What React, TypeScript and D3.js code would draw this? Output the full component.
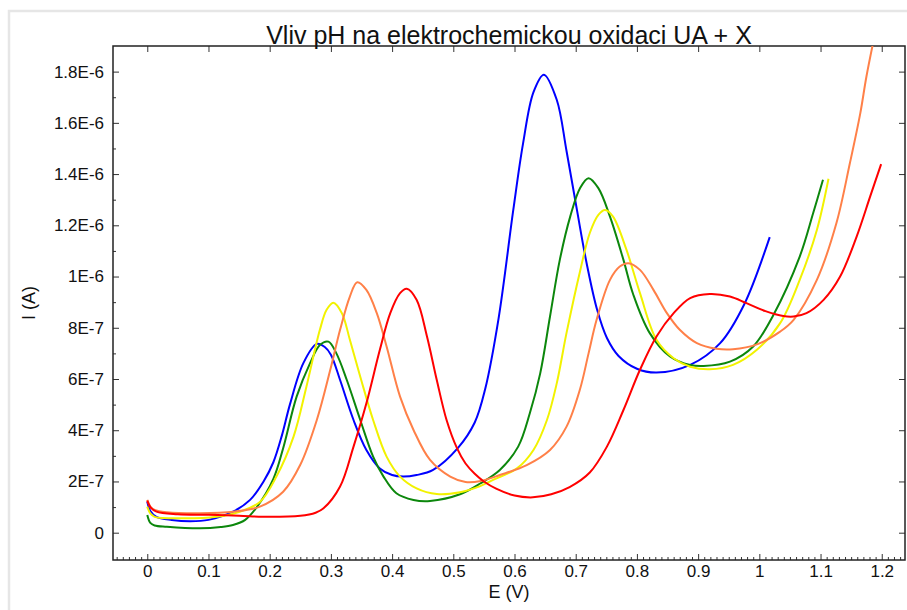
import { useRef, useEffect } from 'react'
import * as d3 from 'd3'

// current values in units of 1E-7 A, potential in V
const blueCurve: [number, number][] = [
  [0, 1.21], [0.005, 0.85], [0.015, 0.62], [0.04, 0.5], [0.07, 0.45], [0.1, 0.5],
  [0.14, 0.82], [0.168, 1.28], [0.19, 2.0], [0.206, 2.75], [0.22, 3.8], [0.233, 5.0],
  [0.255, 6.62], [0.277, 7.37], [0.29, 7.25], [0.3, 6.95], [0.315, 5.96], [0.337, 4.4],
  [0.358, 3.23], [0.38, 2.51], [0.4, 2.25], [0.418, 2.19], [0.44, 2.25], [0.467, 2.45],
  [0.508, 3.32], [0.535, 4.3], [0.552, 5.6], [0.574, 8.37], [0.598, 12.6], [0.614, 15.2],
  [0.631, 17.2], [0.648, 17.88], [0.669, 16.9], [0.685, 14.9], [0.702, 12.6], [0.718, 10.5],
  [0.735, 8.7], [0.751, 7.6], [0.77, 6.9], [0.8, 6.4], [0.832, 6.25], [0.887, 6.55],
  [0.936, 7.4], [0.975, 8.9], [1.017, 11.54]
]

const greenCurve: [number, number][] = [
  [0, 0.69], [0.005, 0.38], [0.012, 0.28], [0.032, 0.23], [0.086, 0.17], [0.12, 0.22],
  [0.14, 0.3], [0.16, 0.5], [0.179, 1.0], [0.206, 2.1], [0.222, 3.3], [0.244, 5.31],
  [0.266, 6.62], [0.282, 7.33], [0.296, 7.46], [0.309, 7.0], [0.326, 5.96], [0.348, 4.4],
  [0.369, 2.97], [0.386, 2.19], [0.407, 1.54], [0.435, 1.28], [0.462, 1.24], [0.511, 1.5],
  [0.544, 1.92], [0.576, 2.45], [0.606, 3.36], [0.625, 4.66], [0.642, 6.22], [0.658, 8.44],
  [0.674, 10.65], [0.691, 12.34], [0.707, 13.45], [0.721, 13.84], [0.737, 13.45],
  [0.756, 12.34], [0.778, 10.65], [0.794, 9.3], [0.821, 7.79], [0.854, 6.88], [0.887, 6.55],
  [0.909, 6.51], [0.952, 6.68], [0.99, 7.27], [1.023, 8.5], [1.066, 10.78], [1.088, 12.48],
  [1.104, 13.78]
]

const yellowCurve: [number, number][] = [
  [0, 1.02], [0.005, 0.75], [0.012, 0.62], [0.059, 0.56], [0.113, 0.62], [0.151, 0.82],
  [0.184, 1.2], [0.211, 2.19], [0.239, 3.75], [0.26, 5.7], [0.282, 7.92], [0.293, 8.7],
  [0.304, 8.98], [0.318, 8.57], [0.331, 7.53], [0.348, 6.09], [0.369, 4.4], [0.391, 2.97],
  [0.413, 2.19], [0.44, 1.73], [0.473, 1.51], [0.511, 1.58], [0.544, 1.82], [0.565, 2.06],
  [0.604, 2.51], [0.631, 3.23], [0.653, 4.4], [0.669, 5.83], [0.685, 7.8], [0.707, 10.2],
  [0.723, 11.7], [0.737, 12.41], [0.748, 12.6], [0.761, 12.34], [0.783, 11.04], [0.805, 9.35],
  [0.832, 7.53], [0.86, 6.81], [0.887, 6.48], [0.919, 6.38], [0.957, 6.55], [0.996, 7.14],
  [1.034, 8.18], [1.066, 9.87], [1.094, 11.82], [1.113, 13.82]
]

const orangeCurve: [number, number][] = [
  [0, 1.28], [0.005, 1.02], [0.012, 0.89], [0.032, 0.8], [0.086, 0.76], [0.141, 0.82],
  [0.184, 1.02], [0.222, 1.6], [0.25, 2.65], [0.277, 4.4], [0.299, 6.36], [0.315, 7.92],
  [0.331, 9.22], [0.343, 9.78], [0.358, 9.48], [0.375, 8.57], [0.391, 7.27], [0.413, 5.31],
  [0.435, 4.01], [0.462, 2.84], [0.495, 2.19], [0.52, 1.98], [0.545, 2.02], [0.576, 2.25],
  [0.62, 2.64], [0.658, 3.23], [0.685, 4.14], [0.707, 5.6], [0.721, 7.0], [0.734, 8.3],
  [0.756, 9.87], [0.772, 10.39], [0.786, 10.52], [0.805, 10.26], [0.827, 9.48], [0.849, 8.57],
  [0.87, 7.92], [0.898, 7.4], [0.93, 7.18], [0.957, 7.16], [0.996, 7.35], [1.034, 7.85],
  [1.056, 8.31], [1.094, 9.87], [1.126, 12.09], [1.148, 14.43], [1.165, 16.38], [1.175, 17.81],
  [1.19, 19.6]
]

const redCurve: [number, number][] = [
  [0, 1.25], [0.005, 1.0], [0.015, 0.82], [0.05, 0.72], [0.1, 0.7], [0.15, 0.66],
  [0.2, 0.62], [0.25, 0.66], [0.275, 0.78], [0.288, 0.95], [0.315, 1.8], [0.337, 3.36],
  [0.358, 5.05], [0.38, 7.14], [0.397, 8.57], [0.413, 9.35], [0.424, 9.52], [0.44, 9.09],
  [0.457, 7.66], [0.473, 5.96], [0.489, 4.4], [0.506, 3.3], [0.52, 2.7], [0.535, 2.3],
  [0.55, 2.0], [0.57, 1.72], [0.6, 1.45], [0.63, 1.38], [0.66, 1.5], [0.69, 1.78],
  [0.723, 2.35], [0.751, 3.36], [0.778, 4.79], [0.805, 6.36], [0.832, 7.66], [0.86, 8.57],
  [0.887, 9.16], [0.919, 9.32], [0.952, 9.22], [0.979, 8.96], [1.01, 8.65], [1.039, 8.46],
  [1.056, 8.44], [1.077, 8.57], [1.105, 9.09], [1.132, 10.0], [1.159, 11.56], [1.181, 13.12],
  [1.199, 14.39]
]

const seriesData = [blueCurve, greenCurve, yellowCurve, orangeCurve, redCurve]
const seriesColors = ['#0000ff', '#0c870c', '#f2f200', '#ff8048', '#ff0000']

const xTickValues = [0, 0.1, 0.2, 0.3, 0.4, 0.5, 0.6, 0.7, 0.8, 0.9, 1, 1.1, 1.2]
const xTickLabels = ['0', '0.1', '0.2', '0.3', '0.4', '0.5', '0.6', '0.7', '0.8', '0.9', '1', '1.1', '1.2']
const yTickValues = [0, 2, 4, 6, 8, 10, 12, 14, 16, 18]
const yTickLabels = ['0', '2E-7', '4E-7', '6E-7', '8E-7', '1E-6', '1.2E-6', '1.4E-6', '1.6E-6', '1.8E-6']
const yMinorValues = [1, 3, 5, 7, 9, 11, 13, 15, 17]

const chartTitle = 'Vliv pH na elektrochemickou oxidaci UA + X'
const xLabel = 'E (V)'
const yLabel = 'I (A)'

function App() {
  const containerRef = useRef<HTMLDivElement>(null)

  useEffect(() => {
    if (!containerRef.current) return
    const container = containerRef.current
    container.innerHTML = ''

    const width = 907
    const height = 610
    const margin = { top: 46, right: 2, bottom: 50, left: 113 }
    const font = '"Liberation Sans", Arial, sans-serif'

    const svg = d3.select(container)
      .append('svg')
      .attr('width', width)
      .attr('height', height)
      .style('position', 'absolute')
      .style('left', '0px')
      .style('top', '0px')
      .style('background', '#fff')

    // light panel border
    svg.append('rect')
      .attr('x', 9)
      .attr('y', 11)
      .attr('width', 1000)
      .attr('height', 1000)
      .attr('fill', 'none')
      .attr('stroke', '#e6e6e6')
      .attr('stroke-width', 2.5)

    const x = d3.scaleLinear()
      .domain([-0.056, 1.238])
      .range([margin.left, width - margin.right])

    const y = d3.scaleLinear()
      .domain([-1.066, 19.0])
      .range([height - margin.bottom, margin.top])

    const [x0, x1] = x.range()
    const [yb, yt] = y.range()

    const xMinor = d3.range(-5, 124).filter(i => i % 10 !== 0).map(i => i / 100)

    const tickColor = '#333'

    // bottom axis
    const bottom = svg.append('g').attr('transform', `translate(0,${yb})`)
    bottom.call(d3.axisBottom(x).tickValues(xMinor).tickSizeInner(-3).tickSizeOuter(0).tickFormat(() => ''))
    bottom.select('.domain').remove()
    const bottomMajor = svg.append('g').attr('transform', `translate(0,${yb})`)
    bottomMajor.call(
      d3.axisBottom(x)
        .tickValues(xTickValues)
        .tickSizeInner(-6)
        .tickSizeOuter(0)
        .tickPadding(5)
        .tickFormat((_, i) => xTickLabels[i])
    )
    bottomMajor.select('.domain').remove()

    // top axis
    const top = svg.append('g').attr('transform', `translate(0,${yt})`)
    top.call(d3.axisTop(x).tickValues(xMinor).tickSizeInner(-3).tickSizeOuter(0).tickFormat(() => ''))
    top.call(d3.axisTop(x).tickValues(xTickValues).tickSizeInner(-6).tickSizeOuter(0).tickFormat(() => ''))
    top.selectAll('.domain').remove()

    // left axis
    const left = svg.append('g').attr('transform', `translate(${x0},0)`)
    left.call(d3.axisLeft(y).tickValues(yMinorValues).tickSizeInner(-3).tickSizeOuter(0).tickFormat(() => ''))
    left.select('.domain').remove()
    const leftMajor = svg.append('g').attr('transform', `translate(${x0},0)`)
    leftMajor.call(
      d3.axisLeft(y)
        .tickValues(yTickValues)
        .tickSizeInner(-6)
        .tickSizeOuter(0)
        .tickPadding(9)
        .tickFormat((_, i) => yTickLabels[i])
    )
    leftMajor.select('.domain').remove()

    // right axis
    const right = svg.append('g').attr('transform', `translate(${x1},0)`)
    right.call(d3.axisRight(y).tickValues(yMinorValues).tickSizeInner(-3).tickSizeOuter(0).tickFormat(() => ''))
    right.call(d3.axisRight(y).tickValues(yTickValues).tickSizeInner(-6).tickSizeOuter(0).tickFormat(() => ''))
    right.selectAll('.domain').remove()

    svg.selectAll('.tick line').attr('stroke', tickColor).attr('stroke-width', 1)
    svg.selectAll('.tick text')
      .attr('fill', '#111')
      .attr('font-family', font)
      .attr('font-size', '17px')

    // plot frame
    svg.append('rect')
      .attr('x', x0)
      .attr('y', yt)
      .attr('width', x1 - x0)
      .attr('height', yb - yt)
      .attr('fill', 'none')
      .attr('stroke', '#222')
      .attr('stroke-width', 1.5)

    // curves
    svg.append('clipPath')
      .attr('id', 'plot-clip')
      .append('rect')
      .attr('x', x0)
      .attr('y', yt)
      .attr('width', x1 - x0)
      .attr('height', yb - yt)

    const line = d3.line<[number, number]>()
      .x(d => x(d[0]))
      .y(d => y(d[1]))
      .curve(d3.curveCatmullRom.alpha(0.5))

    const curves = svg.append('g').attr('clip-path', 'url(#plot-clip)')
    seriesData.forEach((data, i) => {
      curves.append('path')
        .datum(data)
        .attr('d', line)
        .attr('fill', 'none')
        .attr('stroke', seriesColors[i])
        .attr('stroke-width', 2)
        .attr('stroke-linejoin', 'round')
    })

    // title
    svg.append('text')
      .attr('x', (x0 + x1) / 2)
      .attr('y', yt - 2)
      .attr('text-anchor', 'middle')
      .attr('font-family', font)
      .attr('font-size', '25px')
      .attr('fill', '#111')
      .text(chartTitle)

    // X axis label
    svg.append('text')
      .attr('x', (x0 + x1) / 2)
      .attr('y', 598)
      .attr('text-anchor', 'middle')
      .attr('font-family', font)
      .attr('font-size', '18px')
      .attr('fill', '#111')
      .text(xLabel)

    // Y axis label
    svg.append('text')
      .attr('transform', `translate(35,${(yt + yb) / 2}) rotate(-90)`)
      .attr('text-anchor', 'middle')
      .attr('font-family', font)
      .attr('font-size', '18px')
      .attr('fill', '#111')
      .text(yLabel)
  }, [])

  return <div ref={containerRef} data-testid="cv-chart" />
}

export default App
